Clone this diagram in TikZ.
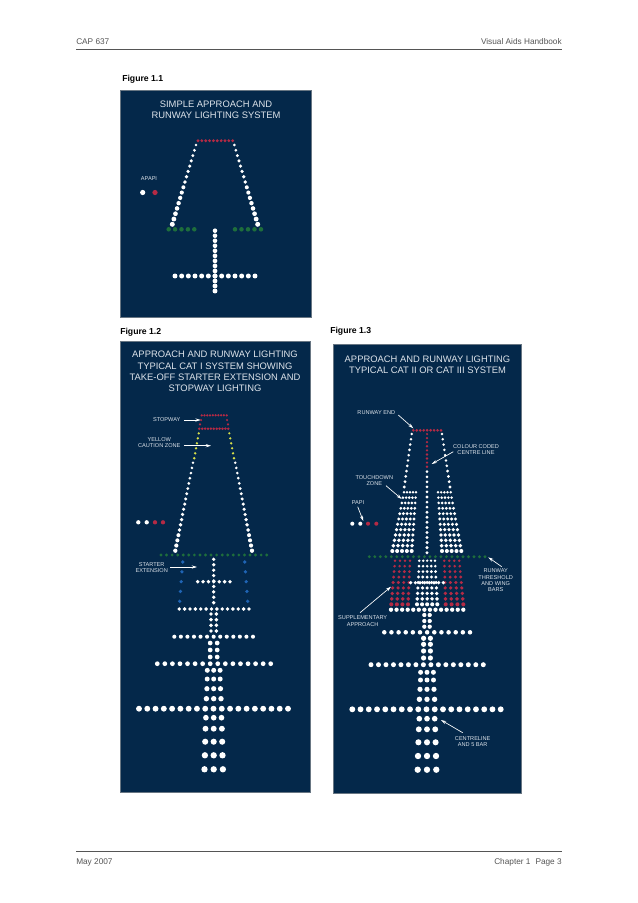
\documentclass[tikz,border=0pt]{standalone}
\usepackage{fontspec}
\setmainfont{Liberation Sans}
\usetikzlibrary{arrows.meta}
\definecolor{navy}{HTML}{04284A}
\definecolor{lred}{HTML}{B42A45}
\definecolor{lgreen}{HTML}{1E6E3C}
\definecolor{lblue}{HTML}{1F64B4}
\definecolor{lyellow}{HTML}{D8E04A}
\definecolor{ltext}{HTML}{DDE3EA}
\definecolor{gtext}{HTML}{555555}
\def\rk{0.85pt}
% straight row of n lights, radius r0 -> r1
\newcommand{\lights}[8]{%
  \foreach \li in {1,...,#5}{%
    \pgfmathsetmacro{\lt}{(\li-1)/max(#5-1,1)}%
    \pgfmathsetmacro{\lx}{#1+(#3-(#1))*\lt}%
    \pgfmathsetmacro{\ly}{#2+(#4-(#2))*\lt}%
    \pgfmathsetmacro{\lr}{#6+(#7-(#6))*\lt}%
    \fill[#8] (\lx,\ly) circle[radius=\lr*\rk];
  }}
% block of rows: left/right end at top and bottom
\newcommand{\lblock}[9]{\def\bcol{#9}\lblockb{#1}{#2}{#3}{#4}{#5}{#6}{#7}{#8}}
\newcommand{\lblockb}[8]{%
  \foreach \bj in {1,...,#7}{%
    \pgfmathsetmacro{\bt}{(\bj-1)/(#7-1)}%
    \pgfmathsetmacro{\bl}{#1+(#4-(#1))*\bt}%
    \pgfmathsetmacro{\brr}{#2+(#5-(#2))*\bt}%
    \pgfmathsetmacro{\by}{#3+(#6-(#3))*\bt}%
    \pgfmathsetmacro{\brad}{1.2+(1.8-1.2)*\bt}%
    \lights{\bl}{\by}{\brr}{\by}{#8}{\brad}{\brad}{\bcol}
  }}
% three dots across a centre line
\newcommand{\trip}[4]{%
  \foreach \tx in {-1,0,1}{\fill[white] (#1+\tx*#3,#2) circle[radius=#4*\rk];}}
\newcommand{\doub}[4]{%
  \foreach \tx in {-1,1}{\fill[white] (#1+\tx*#3,#2) circle[radius=#4*\rk];}}
\tikzset{
  panel/.style={fill=navy,draw=black!35!navy!60!white,line width=.3pt},
  ptitle/.style={text=ltext,align=center,font=\fontsize{7.05}{8.5}\selectfont,inner sep=0pt},
  plabel/.style={text=ltext,align=center,font=\fontsize{4.2}{4.6}\selectfont,inner sep=0pt},
  figlabel/.style={anchor=west,font=\bfseries\fontsize{6.5}{8}\selectfont,inner sep=0pt},
  pagetext/.style={text=gtext,font=\fontsize{6.2}{7}\selectfont,inner sep=0pt},
  rulel/.style={draw=gtext,line width=.45pt},
  callout/.style={draw=white,line width=.5pt,-{Stealth[length=4pt,width=2.4pt]}}
}
\begin{document}
\begin{tikzpicture}[x=0.75pt,y=-0.75pt]
\useasboundingbox (0,0) rectangle (638,903);
\fill[white] (0,0) rectangle (638,903);
% page furniture
\node[pagetext,anchor=base west] (hl) at (76,44) {CAP 637};
\node[pagetext,anchor=base east] (hr) at (562,44) {Visual Aids Handbook};
\coordinate (hrule1) at (76,49.5); \coordinate (hrule2) at (562,49.5);
\draw[rulel] (hrule1) -- (hrule2);
\coordinate (frule1) at (76,851); \coordinate (frule2) at (562,851);
\draw[rulel] (frule1) -- (frule2);
\node[pagetext,anchor=base west] (fl) at (76,864) {May 2007};
\node[pagetext,anchor=base east] (fr) at (562,864) {Chapter 1\hspace{.6em}Page 3};
% figure labels
\node[figlabel] (f1) at (122,79.5) {Figure 1.1};
\node[figlabel] (f2) at (120,332) {Figure 1.2};
\node[figlabel] (f3) at (330,331) {Figure 1.3};
% ------- panels
\draw[panel] (120,90) rectangle (311,317);
\draw[panel] (120,341) rectangle (310,792);
\draw[panel] (333.5,344) rectangle (521,793.5);
% ------- Figure 1.1
\node[ptitle] (t1) at (216,109.5) {SIMPLE APPROACH AND\\RUNWAY LIGHTING SYSTEM};
\node[plabel] (apapi) at (149,179) {APAPI};
\lights{198}{140.7}{232.7}{140.7}{10}{1.4}{1.4}{lred}
\lights{196}{145}{172.3}{224.3}{16}{1.3}{2.2}{white}
\lights{234.3}{145}{257.7}{224.3}{16}{1.3}{2.2}{white}
\lights{168.7}{229.3}{194.3}{229.3}{5}{2}{2}{lgreen}
\lights{235}{229.3}{261}{229.3}{5}{2}{2}{lgreen}
\lights{215}{230.7}{215}{291}{13}{2}{2.2}{white}
\lights{175}{276}{255}{276}{13}{2.2}{2.2}{white}
\lights{142.7}{192.5}{142.7}{192.5}{1}{2.3}{2.3}{white}
\lights{155}{192.5}{155}{192.5}{1}{2.3}{2.3}{lred}
% ------- Figure 1.2
\node[ptitle] (t2) at (215,371.5) {APPROACH AND RUNWAY LIGHTING\\TYPICAL CAT I SYSTEM SHOWING\\TAKE-OFF STARTER EXTENSION AND\\STOPWAY LIGHTING};
\node[plabel] (stopw) at (166.7,420) {STOPWAY};
\coordinate (a1s) at (184.3,420); \coordinate (a1e) at (200.7,420);
\draw[callout] (a1s) -- (a1e);
\node[plabel] (yell) at (159.3,442.7) {YELLOW\\CAUTION ZONE};
\coordinate (a2s) at (184,445.7); \coordinate (a2e) at (211,445.7);
\draw[callout] (a2s) -- (a2e);
\node[plabel] (start) at (151.7,567.8) {STARTER\\EXTENSION};
\coordinate (a3s) at (170.3,567); \coordinate (a3e) at (197,567);
\draw[callout] (a3s) -- (a3e);
\lights{201.7}{415.3}{226.7}{415.3}{10}{1.1}{1.1}{lred}
\lights{199.3}{428.7}{228.3}{428.7}{11}{1.2}{1.2}{lred}
\lights{201}{420}{200}{424.3}{2}{1.1}{1.1}{lred}
\lights{227}{420}{228}{424.3}{2}{1.1}{1.1}{lred}
\lights{198.7}{433.3}{194.3}{458.3}{6}{1.1}{1.2}{lyellow}
\lights{229.3}{433.3}{234}{458.3}{6}{1.1}{1.2}{lyellow}
\lights{193}{462.7}{175.3}{550.7}{18}{1.2}{1.9}{white}
\lights{235.3}{462.7}{252}{550.7}{18}{1.2}{1.9}{white}
\lights{138.3}{522.3}{146.7}{522.3}{2}{1.9}{1.9}{white}
\lights{155}{522.3}{163}{522.3}{2}{1.9}{1.9}{lred}
\lights{161}{555}{266.7}{555}{20}{1.4}{1.4}{lgreen}
\lights{182.7}{562}{179.7}{601.3}{5}{1.6}{1.6}{lblue}
\lights{244.7}{562}{247.7}{601.3}{5}{1.6}{1.6}{lblue}
\lights{213.7}{559.3}{213.7}{602.7}{9}{1.6}{1.7}{white}
\lights{197.7}{581.7}{230}{581.7}{7}{1.7}{1.7}{white}
\lights{179.3}{609}{249}{609}{14}{1.7}{1.7}{white}
\foreach \yy in {614,619.7,625.3,631}{\doub{213.7}{\yy}{2.7}{1.75}}
\lights{174.3}{636.7}{253}{636.7}{13}{1.8}{1.8}{white}
\foreach \yy in {643,650,657}{\doub{213.7}{\yy}{3.5}{2.1}}
\lights{157.3}{663.7}{270.7}{663.7}{16}{2.1}{2.1}{white}
\trip{213.7}{670.3}{6.4}{2.2}
\trip{213.7}{679}{6.5}{2.2}
\trip{213.7}{688.7}{6.8}{2.3}
\trip{213.7}{698.7}{7.3}{2.4}
\lights{139}{708.7}{288}{708.7}{19}{2.6}{2.6}{white}
\trip{213.7}{717.7}{7.8}{2.5}
\trip{213.7}{728.7}{8.2}{2.6}
\trip{213.7}{741.7}{8.5}{2.7}
\trip{213.7}{755.3}{8.8}{2.8}
\trip{213.7}{769.3}{9.2}{2.8}
% ------- Figure 1.3
\node[ptitle] (t3) at (427.5,365) {APPROACH AND RUNWAY LIGHTING\\TYPICAL CAT II OR CAT III SYSTEM};
\node[plabel] (rwe) at (376.3,412.7) {RUNWAY END};
\coordinate (b1s) at (398.3,415); \coordinate (b1e) at (413.3,428.3);
\draw[callout] (b1s) -- (b1e);
\node[plabel] (ccc) at (476,449.7) {COLOUR CODED\\CENTRE LINE};
\coordinate (b2s) at (453.3,451.7); \coordinate (b2e) at (431.7,464);
\draw[callout] (b2s) -- (b2e);
\node[plabel] (tdz) at (374.3,480.8) {TOUCHDOWN\\ZONE};
\coordinate (b3s) at (386,485.7); \coordinate (b3e) at (401.7,499);
\draw[callout] (b3s) -- (b3e);
\node[plabel] (papi) at (358,502.7) {PAPI};
\coordinate (b4s) at (357.7,506.7); \coordinate (b4e) at (363.3,521);
\draw[callout] (b4s) -- (b4e);
\node[plabel] (rtw) at (495.7,580.2) {RUNWAY\\THRESHOLD\\AND WING\\BARS};
\coordinate (b5s) at (501.7,566.7); \coordinate (b5e) at (488.3,557.3);
\draw[callout] (b5s) -- (b5e);
\node[plabel] (supp) at (362.7,621) {SUPPLEMENTARY\\APPROACH};
\coordinate (b6s) at (360,612.7); \coordinate (b6e) at (391,586.7);
\draw[callout] (b6s) -- (b6e);
\node[plabel] (cl5) at (472.7,741.8) {CENTRELINE\\AND 5 BAR};
\coordinate (b7s) at (462.7,732.7); \coordinate (b7e) at (441,720);
\draw[callout] (b7s) -- (b7e);
\lights{413.3}{430.3}{441}{430.3}{9}{1.3}{1.3}{lred}
\lights{427}{434}{427}{466.7}{9}{1.1}{1.2}{lred}
\lights{427}{471.7}{427}{552.7}{17}{1.3}{1.5}{white}
\lights{411.7}{434}{404.3}{487}{11}{1.2}{1.4}{white}
\lights{442}{434}{450}{487}{11}{1.2}{1.4}{white}
\lblock{404}{416}{492.3}{392.3}{411.7}{551}{12}{5}{white}
\lblock{438}{450.7}{492.3}{442}{461.3}{551}{12}{5}{white}
\lights{352.3}{523.7}{360.3}{523.7}{2}{1.8}{1.8}{white}
\lights{368}{523.7}{376.3}{523.7}{2}{1.8}{1.8}{lred}
\lights{369.3}{556.7}{485}{556.7}{22}{1.4}{1.4}{lgreen}
\lblock{395}{410}{560.7}{391.3}{408}{604.3}{9}{4}{lred}
\lblock{444.3}{459.3}{560.7}{445.7}{463.3}{604.3}{9}{4}{lred}
\lblock{419.3}{435}{560.7}{417}{437.3}{604.3}{9}{5}{white}
\lights{410.7}{582.7}{443.3}{582.7}{8}{1.6}{1.6}{white}
\lights{391}{609.7}{463.3}{609.7}{14}{1.9}{1.9}{white}
\foreach \yy in {615,621,626.7}{\doub{427}{\yy}{2.7}{1.9}}
\lights{384.3}{632.3}{470}{632.3}{13}{2}{2}{white}
\foreach \yy in {638.3,644.3,651,658}{\doub{427}{\yy}{3.4}{2.3}}
\lights{371}{664.7}{483.3}{664.7}{16}{2.2}{2.2}{white}
\trip{427}{672.3}{6.4}{2.2}
\trip{427}{680}{6.5}{2.2}
\trip{427}{689.3}{7}{2.3}
\trip{427}{699.3}{7.6}{2.4}
\lights{352.3}{709.3}{500.7}{709.3}{19}{2.6}{2.6}{white}
\trip{427}{718.7}{7.7}{2.5}
\trip{427}{729.3}{8.2}{2.6}
\trip{427}{742.3}{8.6}{2.7}
\trip{427}{756}{9}{2.8}
\trip{427}{769.7}{9.3}{2.8}
\end{tikzpicture}
\end{document}
